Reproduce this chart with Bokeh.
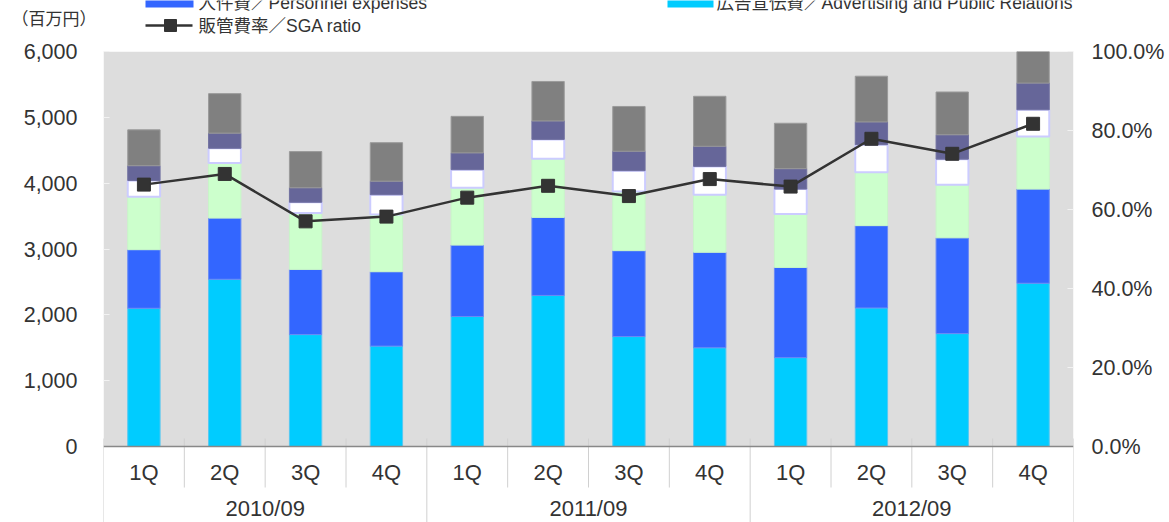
from bokeh.plotting import figure
from bokeh.models import (Range1d, LinearAxis, FixedTicker, NumeralTickFormatter,
                          BoxAnnotation, Span, ColumnDataSource)
from bokeh.layouts import column
from bokeh.embed import file_html
from bokeh.resources import INLINE
from bokeh.core.properties import value

# ---------------- data ----------------
years = ["2010/09", "2011/09", "2012/09"]
quarters = ["1Q", "2Q", "3Q", "4Q"]

advertising = [2100, 2540, 1700, 1525, 1975, 2295, 1670, 1500, 1350, 2105, 1715, 2480]
personnel   = [890, 930, 990, 1130, 1085, 1185, 1305, 1450, 1370, 1250, 1455, 1430]
seg_green   = [805, 835, 855, 870, 870, 890, 900, 875, 810, 810, 805, 800]
seg_white   = [245, 225, 165, 300, 275, 295, 315, 430, 380, 420, 390, 405]
seg_purple  = [225, 230, 220, 205, 255, 280, 295, 305, 310, 345, 370, 405]
seg_gray    = [545, 600, 550, 585, 555, 600, 680, 760, 690, 695, 650, 700]
sga_ratio   = [0.663, 0.690, 0.570, 0.582, 0.630, 0.660, 0.634, 0.677, 0.658, 0.779, 0.741, 0.817]

left_ticks = [0, 1000, 2000, 3000, 4000, 5000, 6000]
right_ticks = [0.0, 0.2, 0.4, 0.6, 0.8, 1.0]

unit_label = "（百万円）"
label_personnel = "人件費／Personnel expenses"
label_advertising = "広告宣伝費／Advertising and Public Relations"
label_ratio = "販管費率／SGA ratio"

# ---------------- layout / styles ----------------
FONT = "Liberation Sans, Noto Sans CJK JP"
TXT = "#333333"
C_ADV, C_PER, C_GRN, C_WHT, C_PUR, C_GRY = "#00CCFF", "#3366FF", "#CCFFCC", "#FFFFFF", "#666699", "#808080"

W, H = 1169, 522
LEG_H = 37                      # height of the legend strip
FL, FR, FT = 103, 1073, 51      # frame left / right / top (page px)
AX0 = 446                       # page px of value 0
Y_MAX = 6000
UNIT = Y_MAX / (AX0 - FT)       # data per px (vertical)
n = len(advertising)
y_min = -(H - AX0) * UNIT
pct_min = y_min / Y_MAX


def dy(py):
    return Y_MAX - (py - FT) * UNIT


xs = [i + 0.5 for i in range(n)]
src = ColumnDataSource(dict(x=xs, adv=advertising, per=personnel, grn=seg_green,
                            wht=seg_white, pur=seg_purple, gry=seg_gray, ratio=sga_ratio))

# ---------------- main chart ----------------
p = figure(width=W, height=H - LEG_H, output_backend="svg", toolbar_location=None,
           x_range=Range1d(0, n), y_range=Range1d(y_min, Y_MAX),
           x_axis_location=None, y_axis_location="left",
           min_border_left=FL, min_border_right=W - FR, min_border_top=FT - LEG_H,
           min_border_bottom=0)
p.outline_line_color = None
p.background_fill_color = "white"
p.border_fill_color = "white"
p.grid.visible = False

p.add_layout(BoxAnnotation(bottom=0, top=Y_MAX, fill_color="#DDDDDD", fill_alpha=1.0,
                           line_color=None, level="underlay"))

p.vbar_stack(["adv", "per", "grn", "wht", "pur", "gry"], x="x", width=0.4, source=src,
             fill_color=[C_ADV, C_PER, C_GRN, C_WHT, C_PUR, C_GRY],
             line_color=["#55C8F2", "#6A8AF5", "#C8F5C8", "#CCCCFF", "#7070A0", "#9A9A9A"],
             line_width=[1, 1, 1, 2, 1, 1])

p.add_layout(Span(location=0, dimension="width", line_color="#888888", line_width=1.5))

# category separators
sep_top = 8 * UNIT
q_bottom = dy(487)
for b in range(n + 1):
    bottom = y_min if b % 4 == 0 else q_bottom
    p.segment(x0=b, y0=sep_top, x1=b, y1=bottom, line_color="#D0D0D0", line_width=1)

q_labels = [q for _ in years for q in quarters]
p.text(x=xs, y=[dy(472)] * n, text=q_labels, text_font=value(FONT),
       text_font_size="22px", text_align="center", text_baseline="middle", text_color=TXT)
p.text(x=[2 + 4 * i for i in range(len(years))], y=[dy(508)] * len(years),
       text=years, text_font=value(FONT), text_font_size="22px", text_align="center",
       text_baseline="middle", text_color=TXT)

# left axis
ya = p.yaxis[0]
ya.ticker = FixedTicker(ticks=left_ticks)
ya.formatter = NumeralTickFormatter(format="0,0")
ya.axis_line_color = None
ya.major_tick_in = 6
ya.major_tick_out = 0
ya.major_tick_line_color = "#F2F2F2"
ya.minor_tick_line_color = None
ya.major_label_standoff = 26
ya.major_label_text_font = FONT
ya.major_label_text_font_size = "21.5px"
ya.major_label_text_color = TXT

# right axis
p.extra_y_ranges = {"pct": Range1d(pct_min, 1.0)}
ra = LinearAxis(y_range_name="pct", ticker=FixedTicker(ticks=right_ticks),
                formatter=NumeralTickFormatter(format="0.0%"))
ra.axis_line_color = None
ra.major_tick_in = 6
ra.major_tick_out = 0
ra.major_tick_line_color = "#F2F2F2"
ra.minor_tick_line_color = None
ra.major_label_standoff = 18
ra.major_label_text_font = FONT
ra.major_label_text_font_size = "21.5px"
ra.major_label_text_color = TXT
p.add_layout(ra, "right")

p.line(x="x", y="ratio", source=src, y_range_name="pct", line_color="#333333", line_width=2.5)
p.scatter(x="x", y="ratio", source=src, y_range_name="pct", marker="square", size=13,
          fill_color="#333333", line_color="#333333")

# ---------------- legend strip (page-pixel coordinates, top row cut off as in the reference) ----------------
lg = figure(width=W, height=LEG_H, output_backend="svg", toolbar_location=None,
            x_range=Range1d(FL, FR), y_range=Range1d(LEG_H, 0),
            x_axis_location=None, y_axis_location="left",
            min_border_left=FL, min_border_right=W - FR, min_border_top=0, min_border_bottom=0)
lg.outline_line_color = None
lg.grid.visible = False
lg.background_fill_color = "white"
lg.border_fill_color = "white"

UNIT_Y = 19
la = lg.yaxis[0]
la.ticker = FixedTicker(ticks=[UNIT_Y])
la.major_label_overrides = {UNIT_Y: unit_label}
la.axis_line_color = None
la.major_tick_line_color = None
la.minor_tick_line_color = None
la.major_tick_out = 0
la.major_tick_in = 0
la.major_label_standoff = 7
la.major_label_text_font = FONT
la.major_label_text_font_size = "17px"
la.major_label_text_color = TXT

row1_y, row2_y = 2, 25
lg.quad(left=[145], right=[193], top=[-6], bottom=[7], fill_color=C_PER, line_color=None)
lg.quad(left=[667], right=[713], top=[-6], bottom=[7], fill_color=C_ADV, line_color=None)
lg.line(x=[145, 192], y=[row2_y, row2_y], line_color="#333333", line_width=2.5)
lg.scatter(x=[170], y=[row2_y], marker="square", size=12, fill_color="#333333", line_color="#333333")
lg.text(x=[198, 716, 198], y=[row1_y, row1_y, row2_y],
        text=[label_personnel, label_advertising, label_ratio], text_font=value(FONT),
        text_font_size="17.5px", text_align="left", text_baseline="middle", text_color=TXT)

layout = column(lg, p, spacing=0)
open("out.html", "w").write(file_html(layout, INLINE))
